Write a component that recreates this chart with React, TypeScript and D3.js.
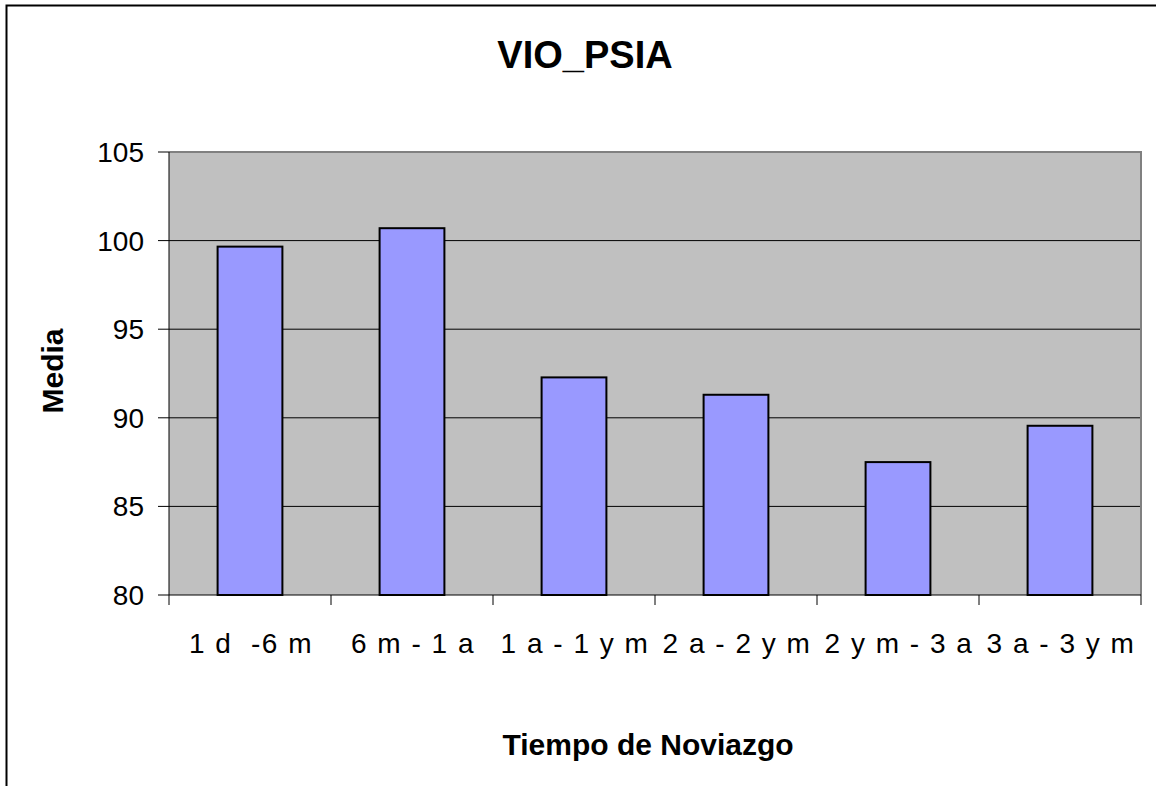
import React from 'react';
import * as d3 from 'd3';

const categories = ['1 d  -6 m', '6 m - 1 a', '1 a - 1 y m', '2 a - 2 y m', '2 y m - 3 a', '3 a - 3 y m'];
const means = [99.66, 100.7, 92.28, 91.3, 87.5, 89.55];
const yTicks = [80, 85, 90, 95, 100, 105];

const W = 1156;
const H = 786;
const plot = { left: 169, right: 1141, top: 152, bottom: 595 };

export default function App() {
  const x = d3
    .scaleBand<string>()
    .domain(categories)
    .range([plot.left, plot.right])
    .paddingInner(0.6)
    .paddingOuter(0.3);
  const band = (plot.right - plot.left) / categories.length;
  const y = d3.scaleLinear().domain([80, 105]).range([plot.bottom, plot.top]);
  const font = 'Arial, "Liberation Sans", sans-serif';

  return (
    <svg
      width={W}
      height={H}
      style={{ position: 'absolute', left: 0, top: 0, background: '#fff' }}
      fontFamily={font}
    >
      {/* chart frame */}
      <rect x={6.5} y={5.5} width={W + 20} height={H + 20} fill="#fff" stroke="#000" strokeWidth={2} />

      <text x={585} y={68} textAnchor="middle" fontSize={38} fontWeight="bold">
        VIO_PSIA
      </text>

      {/* plot area */}
      <rect x={plot.left} y={plot.top} width={plot.right - plot.left} height={plot.bottom - plot.top} fill="#c0c0c0" />
      {yTicks.slice(1, -1).map((t) => (
        <line key={t} x1={plot.left} x2={plot.right} y1={y(t)} y2={y(t)} stroke="#000" strokeWidth={1} />
      ))}
      <line x1={plot.left} x2={plot.right + 1} y1={plot.top} y2={plot.top} stroke="#808080" strokeWidth={2} />
      <line x1={plot.right} x2={plot.right} y1={plot.top} y2={plot.bottom} stroke="#808080" strokeWidth={2} />

      {categories.map((c, i) => (
        <rect
          key={c}
          x={x(c)}
          y={y(means[i])}
          width={x.bandwidth()}
          height={plot.bottom - y(means[i])}
          fill="#9999ff"
          stroke="#000"
          strokeWidth={2}
        />
      ))}

      {/* y axis */}
      <line x1={plot.left} x2={plot.left} y1={plot.top} y2={plot.bottom} stroke="#000" strokeWidth={1} />
      {yTicks.map((t) => (
        <g key={t}>
          <line x1={plot.left - 11} x2={plot.left} y1={y(t)} y2={y(t)} stroke="#000" />
          <text x={plot.left - 25} y={y(t)} dy="0.36em" textAnchor="end" fontSize={28}>
            {t}
          </text>
        </g>
      ))}

      {/* x axis */}
      <line x1={plot.left} x2={plot.right} y1={plot.bottom} y2={plot.bottom} stroke="#000" strokeWidth={1} />
      {d3.range(categories.length + 1).map((i) => (
        <line
          key={i}
          x1={plot.left + i * band}
          x2={plot.left + i * band}
          y1={plot.bottom}
          y2={plot.bottom + 10}
          stroke="#000"
        />
      ))}
      {categories.map((c) => (
        <text
          key={c}
          x={(x(c) ?? 0) + x.bandwidth() / 2 + 1}
          y={653}
          textAnchor="middle"
          fontSize={28}
          letterSpacing={1.5}
          style={{ whiteSpace: 'pre' }}
        >
          {c}
        </text>
      ))}

      <text x={648} y={755} textAnchor="middle" fontSize={30} fontWeight="bold">
        Tiempo de Noviazgo
      </text>
      <text
        transform={`translate(63, 371) rotate(-90)`}
        textAnchor="middle"
        fontSize={30}
        fontWeight="bold"
      >
        Media
      </text>
    </svg>
  );
}
